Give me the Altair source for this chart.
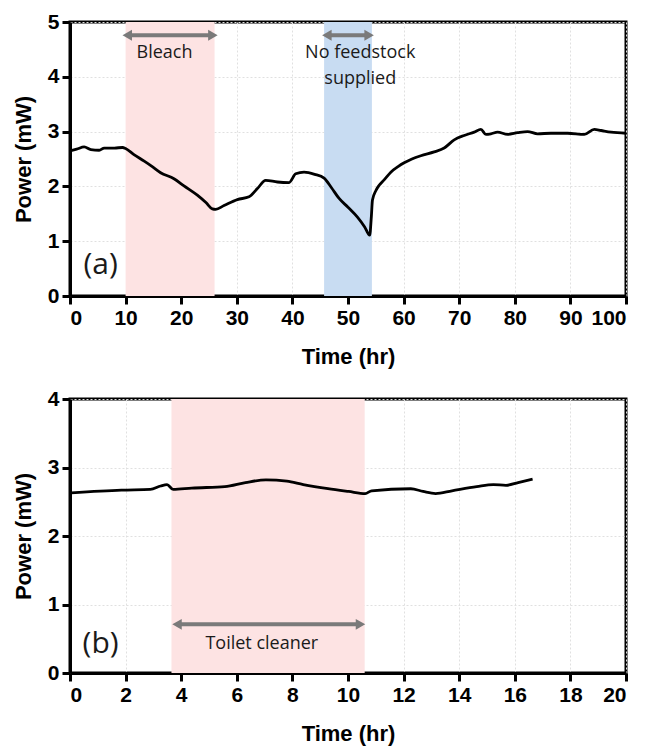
import altair as alt
import pandas as pd

# Panel (a) data
a_time = [0, 1.2, 2.55, 3.75, 5.25, 6.15, 8.0, 9.45, 10.0, 11.5, 13.35, 14.8, 16.3, 18.7, 20.5,
          22.9, 24.5, 25.6, 26.2, 27.7, 30.1, 32.2, 33.7, 35.2, 37.3, 39.4, 40.6, 42.1, 44.0,
          45.7, 47.0, 48.4, 50.0, 51.7, 53.0, 53.9, 54.2, 54.4, 55.0, 55.6, 56.5, 57.7, 59.0,
          60.1, 61.5, 63.1, 65.5, 67.3, 69.1, 70.9, 72.7, 73.9, 74.8, 75.7, 76.9, 78.7, 80.5,
          82.3, 84.1, 86.5, 89.5, 92.5, 94.3, 95.5, 97.3, 100]
a_power = [2.65, 2.68, 2.72, 2.67, 2.66, 2.70, 2.70, 2.71, 2.69, 2.58, 2.46, 2.36, 2.25, 2.14,
           2.01, 1.84, 1.70, 1.59, 1.58, 1.65, 1.76, 1.81, 1.96, 2.11, 2.08, 2.07, 2.23, 2.26,
           2.22, 2.15, 1.98, 1.78, 1.62, 1.44, 1.26, 1.11, 1.45, 1.75, 1.92, 2.02, 2.12, 2.26,
           2.36, 2.43, 2.50, 2.56, 2.63, 2.70, 2.85, 2.93, 2.99, 3.04, 2.95, 2.96, 2.99, 2.95,
           2.98, 3.00, 2.96, 2.97, 2.97, 2.95, 3.04, 3.02, 2.99, 2.97]

# Panel (b) data
b_time = [0.04, 1.85, 2.89, 3.26, 3.49, 3.71, 4.38, 5.57, 6.31, 7.05, 7.80, 8.39, 9.28,
          10.02, 10.62, 10.85, 12.26, 12.70, 13.15, 13.74, 14.63, 15.23, 15.68, 16.12, 16.64]
b_power = [2.63, 2.67, 2.68, 2.73, 2.75, 2.68, 2.70, 2.72, 2.78, 2.82, 2.80, 2.75, 2.69,
           2.65, 2.62, 2.66, 2.69, 2.65, 2.62, 2.66, 2.72, 2.75, 2.74, 2.78, 2.83]

# Shaded regions
a_bands_start = [10, 45.7]
a_bands_end = [26, 54.3]
a_bands_color = ["#fde3e3", "#c8dcf2"]
b_bands_start = [3.65]
b_bands_end = [10.6]
b_bands_color = ["#fde3e3"]

# Arrows
a_arrow_start = [10.3, 46.2]
a_arrow_end = [25.7, 53.8]
a_arrow_y = [4.76, 4.76]
b_arrow_start = [3.85]
b_arrow_end = [10.45]
b_arrow_y = [0.71]

# Annotation texts
a_text = ["Bleach", "No feedstock", "supplied"]
a_text_x = [17, 52.2, 52.2]
a_text_y = [4.43, 4.43, 3.96]
b_text = ["Toilet cleaner"]
b_text_x = [6.9]
b_text_y = [0.43]

W, H = 556, 274
FONT = "Liberation Sans"
ANN_FONT = "Open Sans"


def panel(times, powers, xmax, ymax, bs, be, bc, ars, are, ary, txt, tx, ty, label, label_x, label_y):
    xs = alt.Scale(domain=[0, xmax], nice=False, zero=False)
    ys = alt.Scale(domain=[0, ymax], nice=False)
    xstep = xmax / 10
    xaxis = alt.Axis(values=[round(i * xstep, 6) for i in range(11)], title="Time (hr)",
                     format="d", grid=True)
    yaxis = alt.Axis(values=list(range(ymax + 1)), title="Power (mW)", grid=True, format="d")

    bands = pd.DataFrame({"s": bs, "e": be, "c": bc})
    band_layer = alt.Chart(bands).mark_rect(opacity=1).encode(
        x=alt.X("s:Q", scale=xs, axis=xaxis),
        x2="e:Q",
        y=alt.value(0),
        y2=alt.value(H),
        color=alt.Color("c:N", scale=None, legend=None),
    )

    line_df = pd.DataFrame({"t": times, "p": powers})
    line_layer = alt.Chart(line_df).mark_line(color="black", strokeWidth=2.8,
                                              interpolate="monotone").encode(
        x=alt.X("t:Q", scale=xs, axis=xaxis),
        y=alt.Y("p:Q", scale=ys, axis=yaxis),
    )

    arr = pd.DataFrame({"s": ars, "e": are, "y": ary})
    arrow_rule = alt.Chart(arr).mark_rule(color="#7a7a7a", strokeWidth=4).encode(
        x=alt.X("s:Q", scale=xs), x2="e:Q", y=alt.Y("y:Q", scale=ys)
    )
    left_head = alt.Chart(arr).mark_point(shape="triangle-left", filled=True, color="#7a7a7a",
                                          size=120, opacity=1).encode(
        x=alt.X("s:Q", scale=xs), y=alt.Y("y:Q", scale=ys)
    )
    right_head = alt.Chart(arr).mark_point(shape="triangle-right", filled=True, color="#7a7a7a",
                                           size=120, opacity=1).encode(
        x=alt.X("e:Q", scale=xs), y=alt.Y("y:Q", scale=ys)
    )

    tdf = pd.DataFrame({"txt": txt, "x": tx, "y": ty})
    text_layer = alt.Chart(tdf).mark_text(font=ANN_FONT, fontSize=18, color="#1a1a1a",
                                          baseline="middle", align="center").encode(
        x=alt.X("x:Q", scale=xs), y=alt.Y("y:Q", scale=ys), text="txt:N"
    )

    ldf = pd.DataFrame({"txt": [label], "x": [label_x], "y": [label_y]})
    label_layer = alt.Chart(ldf).mark_text(font=ANN_FONT, fontSize=30, color="#1a1a1a",
                                           baseline="middle", align="center").encode(
        x=alt.X("x:Q", scale=xs), y=alt.Y("y:Q", scale=ys), text="txt:N"
    )

    return alt.layer(band_layer, line_layer, arrow_rule, left_head, right_head,
                     text_layer, label_layer).properties(width=W, height=H)


pa = panel(a_time, a_power, 100, 5, a_bands_start, a_bands_end, a_bands_color,
           a_arrow_start, a_arrow_end, a_arrow_y, a_text, a_text_x, a_text_y, "(a)", 5.5, 0.57)
pb = panel(b_time, b_power, 20, 4, b_bands_start, b_bands_end, b_bands_color,
           b_arrow_start, b_arrow_end, b_arrow_y, b_text, b_text_x, b_text_y, "(b)", 1.1, 0.43)

chart = alt.vconcat(pa, pb, spacing=17).properties(
    padding={"left": 2, "top": 1, "right": 5, "bottom": 2}
).configure_view(
    stroke="black", strokeWidth=3
).configure_axis(
    domainColor="black", domainWidth=3, tickColor="black", tickWidth=3, tickSize=8,
    labelFont=FONT, labelFontWeight="bold", labelFontSize=21, labelColor="black",
    titleFont=FONT, titleFontWeight="bold", titleFontSize=22, titleColor="black",
    gridColor="#e0e0e0", gridDash=[2, 2], gridWidth=1, labelPadding=3,
).configure_axisX(titlePadding=18).configure_axisY(titlePadding=12)

chart.save("out.html", embed_options={"renderer": "svg", "actions": False})
